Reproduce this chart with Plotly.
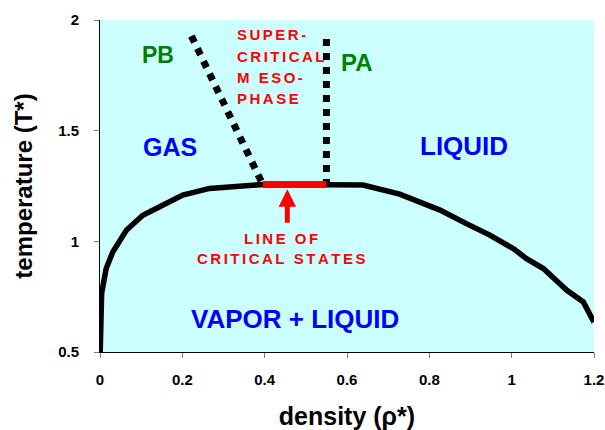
import plotly.graph_objects as go

# Coexistence curve (density, temperature)
curve_rho = [0.0005, 0.001, 0.002, 0.004, 0.015, 0.031, 0.064, 0.104, 0.145, 0.201,
             0.266, 0.347, 0.396, 0.47, 0.55, 0.639, 0.728, 0.826, 0.89, 0.947,
             1.004, 1.036, 1.077, 1.134, 1.174, 1.2]
curve_T = [0.5, 0.6, 0.68, 0.765, 0.877, 0.952, 1.05, 1.118, 1.156, 1.209,
           1.239, 1.254, 1.257, 1.257, 1.257, 1.254, 1.213, 1.141, 1.08, 1.028,
           0.967, 0.922, 0.877, 0.779, 0.726, 0.635]

# Line of critical states
crit_rho = [0.396, 0.55]
crit_T = [1.257, 1.257]

# Boundaries PB and PA
pb_rho = [0.222, 0.395]
pb_T = [1.928, 1.258]
pa_rho = [0.55, 0.55]
pa_T = [1.914, 1.258]

x_ticks = [0, 0.2, 0.4, 0.6, 0.8, 1, 1.2]
x_tick_labels = ["0", "0.2", "0.4", "0.6", "0.8", "1", "1.2"]
y_ticks = [0.5, 1, 1.5, 2]
y_tick_labels = ["0.5", "1", "1.5", "2"]

FONT = "Liberation Sans, Arial, sans-serif"
HS = "\u200a\u200a"  # letter spacing


def spaced(s):
    return HS.join(list(s))


fig = go.Figure()
fig.add_trace(go.Scatter(x=curve_rho, y=curve_T, mode="lines",
                         line=dict(color="black", width=5.5), hoverinfo="skip"))
fig.add_trace(go.Scatter(x=pb_rho, y=pb_T, mode="lines",
                         line=dict(color="black", width=7, dash="dot"), hoverinfo="skip"))
fig.add_trace(go.Scatter(x=pa_rho, y=pa_T, mode="lines",
                         line=dict(color="black", width=7, dash="dot"), hoverinfo="skip"))
fig.add_trace(go.Scatter(x=crit_rho, y=crit_T, mode="lines",
                         line=dict(color="#FF0000", width=7), hoverinfo="skip"))

annotations = []


def label(text, x, y, color, size, xanchor="center"):
    annotations.append(dict(x=x, y=y, xref="x", yref="y", text=text, showarrow=False,
                            xanchor=xanchor, yanchor="middle",
                            font=dict(family=FONT, size=size, color=color, weight="bold")))


label("PB", 0.142, 1.842, "#008000", 23)
label("PA", 0.624, 1.808, "#008000", 24)
label("GAS", 0.169, 1.428, "#0000FF", 25)
label("LIQUID", 0.885, 1.43, "#0000FF", 26)
label("VAPOR + LIQUID", 0.474, 0.648, "#0000FF", 26)

for txt, yy in [("SUPER-", 1.933), ("CRITICAL", 1.837), ("M ESO-", 1.739), ("PHASE", 1.646)]:
    label(spaced(txt), 0.329, yy, "#FF0000", 15, xanchor="left")

label(spaced("LINE OF"), 0.439, 1.015, "#FF0000", 15)
label(spaced("CRITICAL STATES"), 0.439, 0.922, "#FF0000", 15)

# arrow pointing to the line of critical states
annotations.append(dict(x=0.455, y=1.235, ax=0.455, ay=1.077, xref="x", yref="y",
                        axref="x", ayref="y", text="", showarrow=True,
                        arrowhead=2, arrowsize=0.7, arrowwidth=5, arrowcolor="#FF0000"))

fig.update_layout(
    width=605, height=430,
    margin=dict(l=100, r=11, t=20, b=78),
    paper_bgcolor="white", plot_bgcolor="#CCFFFF",
    showlegend=False,
    annotations=annotations,
    font=dict(family=FONT, color="black"),
)
fig.update_xaxes(range=[0, 1.2], tickvals=x_ticks, ticktext=x_tick_labels, automargin=False,
                 showgrid=False, zeroline=False, showline=True, linecolor="black", linewidth=1,
                 ticks="outside", ticklen=5, tickcolor="#808080", ticklabelstandoff=9,
                 tickfont=dict(family=FONT, size=15, weight="bold"),
                 title=dict(text="density (ρ*)", standoff=21,
                            font=dict(family=FONT, size=25, weight="bold")))
fig.update_yaxes(range=[0.5, 2], tickvals=y_ticks, ticktext=y_tick_labels, automargin=False,
                 showgrid=False, zeroline=False, showline=True, linecolor="black", linewidth=1,
                 ticks="outside", ticklen=5, tickcolor="#808080", ticklabelstandoff=12,
                 tickfont=dict(family=FONT, size=15, weight="bold"),
                 title=dict(text="temperature (T*)", standoff=18,
                            font=dict(family=FONT, size=24, weight="bold")))

# remove the default page margin so the figure fills the window exactly
fig.write_html("out.html", config={"displayModeBar": False},
               post_script="document.body.style.margin='0';document.body.style.overflow='hidden';")
